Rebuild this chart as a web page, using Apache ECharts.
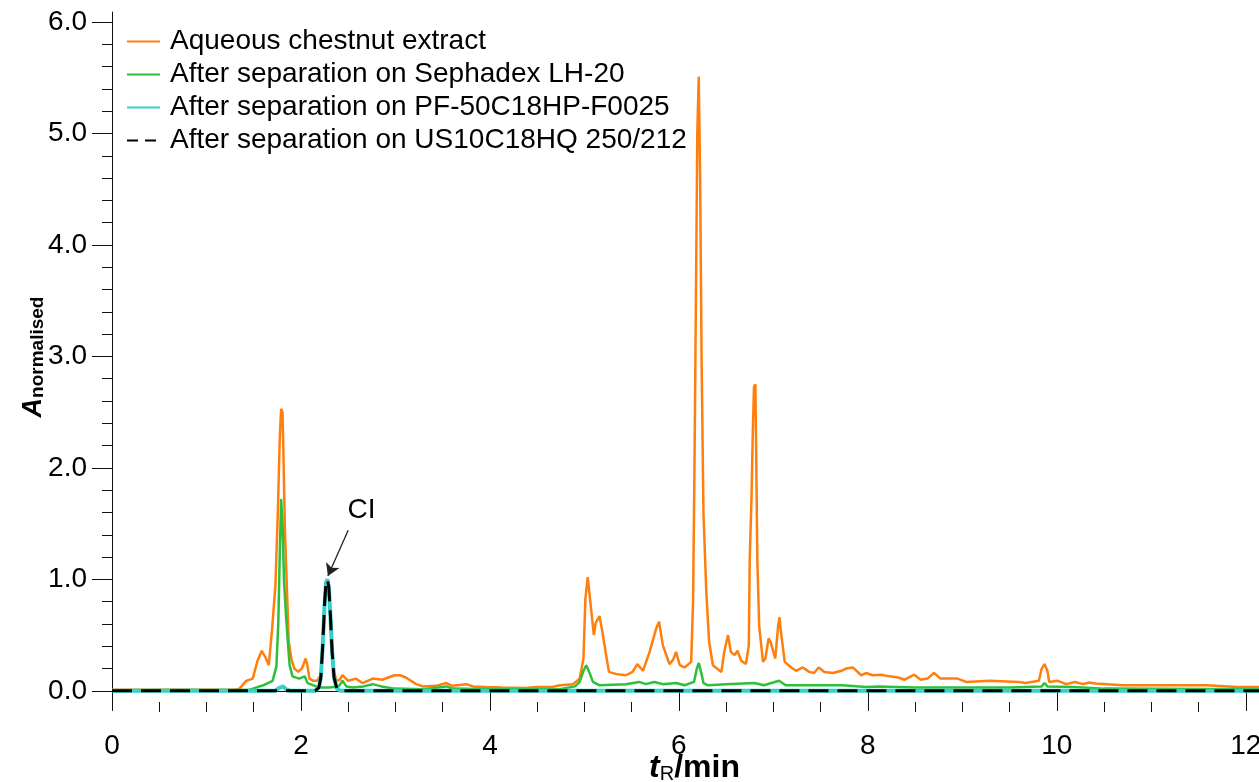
<!DOCTYPE html>
<html>
<head>
<meta charset="utf-8">
<title>Chromatograms</title>
<script src="https://cdn.jsdelivr.net/npm/echarts@6/dist/echarts.min.js"></script>
<style>
  html, body { margin: 0; padding: 0; background: #fff; }
  #chart { width: 1259px; height: 782px; }
</style>
</head>
<body>
<div id="chart"></div>
<script>
// Retention time (min) and normalised absorbance for each trace
const extractT = [0, 1.30, 1.35, 1.42, 1.49, 1.54, 1.585, 1.63, 1.66, 1.695, 1.73, 1.755, 1.775, 1.79, 1.805, 1.815, 1.83, 1.85, 1.87, 1.90, 1.93, 1.97, 2.01, 2.05, 2.07, 2.09, 2.13, 2.17,
  2.19, 2.21, 2.23, 2.25, 2.265, 2.28, 2.295, 2.31, 2.33, 2.35, 2.38, 2.41, 2.44, 2.50, 2.58, 2.65, 2.76, 2.86, 2.99, 3.05, 3.11, 3.22, 3.29, 3.43, 3.54, 3.60, 3.75, 3.82, 3.96, 4.13, 4.38, 4.49, 4.66,
  4.74, 4.88, 4.95, 4.99, 5.01, 5.035, 5.06, 5.10, 5.12, 5.16, 5.19, 5.23, 5.26, 5.34, 5.44, 5.51, 5.56, 5.62, 5.69, 5.76, 5.79, 5.83, 5.90, 5.94, 5.97, 6.01, 6.06, 6.13,
  6.15, 6.165, 6.18, 6.195, 6.21, 6.225, 6.24, 6.26, 6.29, 6.32, 6.36, 6.45, 6.48, 6.52, 6.55, 6.59, 6.62, 6.66, 6.71, 6.74, 6.75, 6.77, 6.78, 6.795, 6.81, 6.82, 6.83, 6.85, 6.89, 6.915, 6.95, 6.97, 7.00, 7.02, 7.05, 7.065, 7.08, 7.12,
  7.19, 7.24, 7.31, 7.38, 7.43, 7.48, 7.54, 7.63, 7.72, 7.77, 7.84, 7.93, 7.98, 8.05, 8.14, 8.23, 8.32, 8.39, 8.49, 8.56, 8.63, 8.70, 8.77, 8.95, 9.04, 9.29, 9.60, 9.67, 9.81, 9.84, 9.87, 9.90, 9.92,
  10.01, 10.10, 10.19, 10.28, 10.34, 10.41, 10.70, 11.58, 11.91, 12.14];
const extractA = [0.01, 0.01, 0.02, 0.09, 0.11, 0.27, 0.36, 0.29, 0.23, 0.56, 0.95, 1.6, 2.25, 2.53, 2.5, 2.1, 1.45, 0.95, 0.45, 0.28, 0.2, 0.17, 0.2, 0.29, 0.22, 0.11, 0.09, 0.09,
  0.09, 0.14, 0.42, 0.8, 0.97, 1.0, 0.93, 0.72, 0.38, 0.16, 0.09, 0.1, 0.14, 0.09, 0.11, 0.07, 0.11, 0.10, 0.14, 0.14, 0.12, 0.06, 0.04, 0.045, 0.07, 0.045, 0.06, 0.04, 0.035, 0.03, 0.025, 0.035, 0.035,
  0.05, 0.06, 0.11, 0.29, 0.82, 1.02, 0.82, 0.50, 0.61, 0.67, 0.53, 0.32, 0.17, 0.15, 0.14, 0.17, 0.24, 0.18, 0.35, 0.56, 0.62, 0.41, 0.24, 0.28, 0.35, 0.23, 0.21, 0.26,
  0.8, 2.0, 3.5, 5.0, 5.51, 4.6, 3.0, 1.6, 0.89, 0.44, 0.23, 0.17, 0.35, 0.50, 0.35, 0.32, 0.36, 0.27, 0.24, 0.41, 1.18, 1.78, 2.23, 2.73, 2.75, 1.99, 1.18, 0.58, 0.26, 0.29, 0.47, 0.44, 0.35, 0.29, 0.58, 0.66, 0.53, 0.26,
  0.21, 0.18, 0.21, 0.17, 0.16, 0.21, 0.17, 0.16, 0.18, 0.20, 0.21, 0.14, 0.16, 0.14, 0.145, 0.13, 0.12, 0.10, 0.145, 0.10, 0.11, 0.16, 0.11, 0.11, 0.08, 0.09, 0.08, 0.07, 0.09, 0.20, 0.24, 0.18, 0.08,
  0.09, 0.06, 0.08, 0.06, 0.075, 0.065, 0.05, 0.05, 0.035, 0.035];

const lh20T = [0, 1.45, 1.49, 1.60, 1.70, 1.74, 1.76, 1.775, 1.79, 1.805, 1.82, 1.84, 1.86, 1.88, 1.91, 1.98, 2.04, 2.07, 2.16, 2.20, 2.30, 2.40, 2.44, 2.48, 2.55, 2.66, 2.76, 2.85, 2.99, 3.30, 3.54, 3.60, 4.00,
  4.74, 4.90, 4.95, 4.99, 5.02, 5.06, 5.09, 5.16, 5.44, 5.58, 5.65, 5.74, 5.83, 5.97, 6.06, 6.16, 6.19, 6.21, 6.24, 6.26, 6.31, 6.50, 6.80, 6.90, 7.06, 7.13, 7.38, 7.73, 7.98, 8.12, 8.50, 9.50,
  9.84, 9.87, 9.90, 10.18, 10.50, 12.14];
const lh20A = [0.005, 0.01, 0.02, 0.05, 0.09, 0.22, 0.6, 1.2, 1.72, 1.5, 1.0, 0.7, 0.45, 0.23, 0.13, 0.11, 0.13, 0.07, 0.04, 0.03, 0.03, 0.04, 0.09, 0.04, 0.03, 0.04, 0.06, 0.04, 0.02, 0.015, 0.04, 0.02, 0.015,
  0.015, 0.04, 0.08, 0.18, 0.23, 0.15, 0.08, 0.05, 0.06, 0.08, 0.06, 0.08, 0.06, 0.07, 0.05, 0.08, 0.2, 0.25, 0.15, 0.07, 0.05, 0.06, 0.07, 0.05, 0.09, 0.05, 0.05, 0.05, 0.035, 0.04, 0.03, 0.03,
  0.04, 0.07, 0.04, 0.035, 0.02, 0.015];

const pfT = [0, 1.72, 1.78, 1.81, 1.85, 1.90, 2.15, 2.19, 2.21, 2.23, 2.25, 2.265, 2.28, 2.295, 2.31, 2.33, 2.35, 2.38, 2.42, 12.14];
const pfA = [0, 0, 0.03, 0.04, 0.01, 0, 0, 0.03, 0.12, 0.4, 0.78, 0.97, 1.0, 0.93, 0.7, 0.35, 0.12, 0.02, 0, 0];

const usT = [0, 2.15, 2.19, 2.21, 2.23, 2.25, 2.265, 2.28, 2.295, 2.31, 2.33, 2.35, 2.38, 2.42, 12.14];
const usA = [0, 0, 0.03, 0.12, 0.4, 0.78, 0.97, 1.0, 0.93, 0.7, 0.35, 0.12, 0.02, 0, 0];

const seriesNames = [
  'Aqueous chestnut extract',
  'After separation on Sephadex LH-20',
  'After separation on PF-50C18HP-F0025',
  'After separation on US10C18HQ 250/212'
];

// Axis ticks and labels
const xMajorTicks = [0, 2, 4, 6, 8, 10, 12];
const xMinorTicks = [0.5, 1, 1.5, 2.5, 3, 3.5, 4.5, 5, 5.5, 6.5, 7, 7.5, 8.5, 9, 9.5, 10.5, 11, 11.5];
const yMajorTicks = [0, 1, 2, 3, 4, 5, 6];
const yMinorTicks = [0.2, 0.4, 0.6, 0.8, 1.2, 1.4, 1.6, 1.8, 2.2, 2.4, 2.6, 2.8, 3.2, 3.4, 3.6, 3.8, 4.2, 4.4, 4.6, 4.8, 5.2, 5.4, 5.6, 5.8];

// CI arrow (data space): from label end to peak apex
const ciArrowFrom = [2.50, 1.44];
const ciArrowTo = [2.285, 1.03];
const ciLabelAt = [2.64, 1.62];

const pairs = (t, a) => t.map((v, i) => [v, a[i]]);

const FONT = "'Liberation Sans', Arial, Helvetica, sans-serif";
const X_MIN = 0, X_MAX = 12.14, Y_MIN = -0.1, Y_MAX = 6.09;
const axisColor = '#111';

const chart = echarts.init(document.getElementById('chart'), null, { renderer: 'canvas' });

chart.setOption({
  animation: false,
  backgroundColor: '#fff',
  textStyle: { fontFamily: FONT },
  grid: { left: 112, right: 0, top: 12, bottom: 80, containLabel: false, outerBoundsMode: 'none' },
  legend: {
    orient: 'vertical',
    left: 126,
    top: 27,
    padding: 0,
    itemGap: 4,
    itemWidth: 33,
    itemHeight: 14,
    itemStyle: { opacity: 0 },
    textStyle: { fontFamily: FONT, fontSize: 28, color: '#000', lineHeight: 29, padding: [0, 0, 0, 5] },
    data: [
      { name: seriesNames[0] },
      { name: seriesNames[1] },
      { name: seriesNames[2] },
      { name: seriesNames[3], lineStyle: { type: [11, 7] } }
    ]
  },
  xAxis: [
    {
      type: 'value', min: X_MIN, max: X_MAX, position: 'bottom',
      axisLine: { show: true, lineStyle: { color: axisColor, width: 1 } },
      axisTick: { show: true, length: 20, customValues: xMajorTicks, lineStyle: { color: axisColor, width: 1 } },
      axisLabel: { customValues: xMajorTicks, fontSize: 28, color: '#000', margin: 30, fontFamily: FONT },
      splitLine: { show: false },
      name: '{t|t}{r|R}{m|/min}',
      nameLocation: 'middle',
      nameMoveOverlap: false,
      nameGap: 50,
      nameTextStyle: {
        padding: [0, 0, 0, 18],
        rich: {
          t: { fontSize: 32, fontWeight: 'bold', fontStyle: 'italic', fontFamily: FONT, color: '#000', verticalAlign: 'bottom', lineHeight: 32 },
          r: { fontSize: 20, fontWeight: 'normal', fontFamily: FONT, color: '#000', verticalAlign: 'bottom', lineHeight: 28 },
          m: { fontSize: 32, fontWeight: 'bold', fontFamily: FONT, color: '#000', verticalAlign: 'bottom', lineHeight: 32 }
        }
      }
    },
    {
      type: 'value', min: X_MIN, max: X_MAX, position: 'top',
      axisLine: { show: true, lineStyle: { color: axisColor, width: 1 } },
      axisTick: { show: false }, axisLabel: { show: false }, splitLine: { show: false }
    },
    {
      type: 'value', min: X_MIN, max: X_MAX, position: 'bottom',
      axisLine: { show: false },
      axisTick: { show: true, length: 10, customValues: xMinorTicks, lineStyle: { color: axisColor, width: 1 } },
      axisLabel: { show: false }, splitLine: { show: false }
    }
  ],
  yAxis: [
    {
      type: 'value', min: Y_MIN, max: Y_MAX, position: 'left',
      axisLine: { show: true, lineStyle: { color: axisColor, width: 1 } },
      axisTick: { show: true, length: 20, customValues: yMajorTicks, lineStyle: { color: axisColor, width: 1 } },
      axisLabel: { customValues: yMajorTicks, fontSize: 28, color: '#000', margin: 25, fontFamily: FONT,
        formatter: v => v.toFixed(1) },
      splitLine: { show: false },
      name: '{a|A}{b|normalised}',
      nameLocation: 'middle',
      nameMoveOverlap: false,
      nameGap: 65,
      nameTextStyle: {
        rich: {
          a: { fontSize: 27, fontWeight: 'bold', fontStyle: 'italic', fontFamily: FONT, color: '#000', verticalAlign: 'bottom', lineHeight: 30 },
          b: { fontSize: 19, fontWeight: 'bold', fontFamily: FONT, color: '#000', verticalAlign: 'bottom', lineHeight: 27 }
        }
      }
    },
    {
      type: 'value', min: Y_MIN, max: Y_MAX, position: 'left',
      axisLine: { show: false },
      axisTick: { show: true, length: 10, customValues: yMinorTicks, lineStyle: { color: axisColor, width: 1 } },
      axisLabel: { show: false }, splitLine: { show: false }
    }
  ],
  series: [
    {
      name: seriesNames[0], type: 'line', showSymbol: false, symbol: 'none',
      data: pairs(extractT, extractA),
      lineStyle: { color: '#ff7f0e', width: 2.5 }, itemStyle: { color: '#ff7f0e' }
    },
    {
      name: seriesNames[1], type: 'line', showSymbol: false, symbol: 'none',
      data: pairs(lh20T, lh20A),
      lineStyle: { color: '#2cbf3a', width: 2.5 }, itemStyle: { color: '#2cbf3a' }
    },
    {
      name: seriesNames[2], type: 'line', showSymbol: false, symbol: 'none',
      data: pairs(pfT, pfA),
      lineStyle: { color: '#33d1cc', width: 4 }, itemStyle: { color: '#33d1cc' }
    },
    {
      name: seriesNames[3], type: 'line', showSymbol: false, symbol: 'none',
      data: pairs(usT, usA),
      lineStyle: { color: '#000', width: 3, type: [20, 9] }, itemStyle: { color: '#000' },
      markLine: {
        silent: true,
        animation: false,
        symbol: ['none', 'arrow'],
        symbolSize: [11, 12],
        lineStyle: { color: '#222', width: 1.3, type: 'solid' },
        label: { show: false },
        data: [[{ coord: ciArrowFrom, symbol: 'none' }, { coord: ciArrowTo, symbol: 'arrow' }]]
      },
      markPoint: {
        silent: true,
        symbol: 'circle',
        symbolSize: 1,
        itemStyle: { color: 'rgba(0,0,0,0)' },
        label: { show: true, formatter: 'CI', position: 'inside', fontSize: 28, color: '#000', fontFamily: FONT },
        data: [{ coord: ciLabelAt }]
      }
    }
  ]
});
</script>
</body>
</html>
